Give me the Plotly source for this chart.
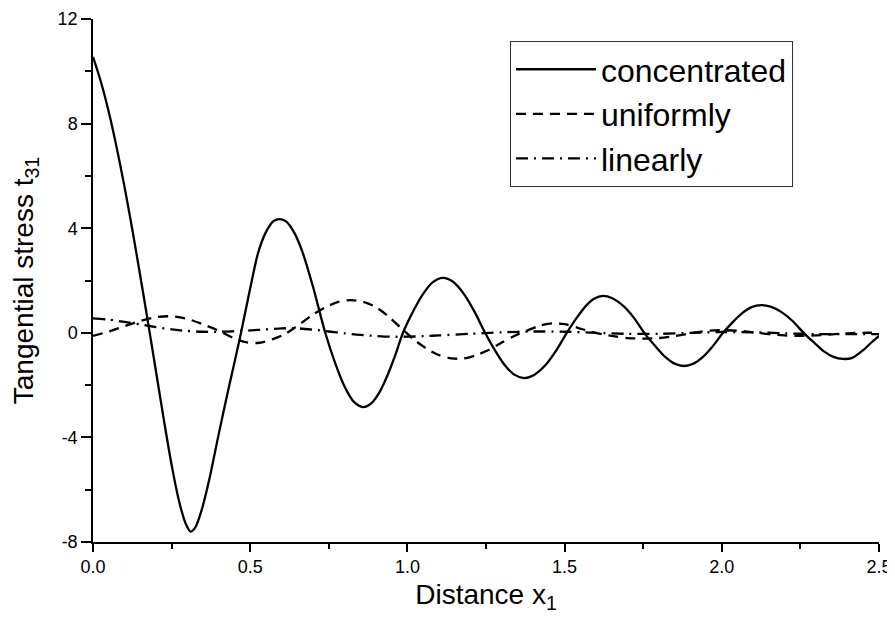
import plotly.graph_objects as go

# ---- data ----
conc_x = [0.0, 0.025, 0.05, 0.075, 0.1, 0.125, 0.15, 0.175, 0.2, 0.225, 0.25, 0.275, 0.295, 0.31, 0.325, 0.345,
          0.37, 0.398, 0.43, 0.468, 0.5, 0.525, 0.55, 0.575, 0.595, 0.615, 0.64,
          0.665, 0.70, 0.738, 0.77, 0.80, 0.83, 0.859, 0.885, 0.91,
          0.935, 0.96, 0.986, 1.02, 1.05, 1.08, 1.113, 1.145,
          1.18, 1.215, 1.247, 1.28, 1.31, 1.34, 1.371, 1.40,
          1.44, 1.475, 1.508, 1.54, 1.57, 1.595, 1.622, 1.65,
          1.69, 1.72, 1.756, 1.79, 1.82, 1.85, 1.88, 1.91,
          1.94, 1.97, 2.004, 2.035, 2.065, 2.095, 2.125, 2.155,
          2.19, 2.225, 2.264, 2.295, 2.325, 2.355, 2.385, 2.415,
          2.45, 2.475, 2.5]
conc_y = [10.55, 9.6, 8.45, 7.1, 5.6, 3.95, 2.2, 0.4, -1.45, -3.3, -5.05, -6.5, -7.3, -7.6, -7.45, -6.8,
          -5.6, -3.98, -2.2, -0.16, 1.7, 3.05, 3.85, 4.28, 4.35, 4.25, 3.83,
          3.13, 1.75, 0.03, -1.15, -2.05, -2.64, -2.84, -2.7, -2.3,
          -1.67, -0.9, 0.0, 0.86, 1.49, 1.93, 2.1, 1.95,
          1.48, 0.77, 0.0, -0.7, -1.24, -1.6, -1.73, -1.63,
          -1.22, -0.64, 0.02, 0.6, 1.06, 1.31, 1.41, 1.33,
          0.99, 0.58, -0.05, -0.53, -0.92, -1.18, -1.27, -1.18,
          -0.92, -0.53, 0.0, 0.41, 0.75, 0.98, 1.06, 1.0,
          0.79, 0.45, -0.05, -0.39, -0.71, -0.92, -1.0, -0.96,
          -0.66, -0.38, -0.12]

unif_x = [0.0, 0.05, 0.1, 0.15, 0.2, 0.25, 0.3, 0.35, 0.4, 0.45, 0.49, 0.53, 0.57, 0.61, 0.66, 0.70,
          0.74, 0.78, 0.82, 0.86, 0.90, 0.94, 0.98, 1.02, 1.06, 1.10, 1.14, 1.18, 1.22, 1.26, 1.30,
          1.34, 1.38, 1.42, 1.46, 1.50, 1.54, 1.58, 1.62, 1.66, 1.70, 1.75, 1.80, 1.85, 1.90, 1.95,
          2.0, 2.05, 2.1, 2.15, 2.2, 2.25, 2.3, 2.35, 2.4, 2.45, 2.5]
unif_y = [-0.12, 0.05, 0.25, 0.45, 0.6, 0.63, 0.53, 0.32, 0.08, -0.22, -0.37, -0.38, -0.25, -0.05, 0.35, 0.7,
          0.98, 1.18, 1.25, 1.18, 0.98, 0.62, 0.18, -0.25, -0.6, -0.85, -0.98, -0.98, -0.85, -0.65, -0.37,
          -0.12, 0.08, 0.27, 0.36, 0.33, 0.2, 0.05, -0.06, -0.14, -0.2, -0.22, -0.2, -0.13, -0.02, 0.07,
          0.1, 0.08, 0.02, -0.05, -0.1, -0.12, -0.1, -0.06, -0.02, 0.0, 0.0]

lin_x = [0.0, 0.05, 0.1, 0.15, 0.2, 0.25, 0.3, 0.35, 0.4, 0.45, 0.5, 0.55, 0.6, 0.65, 0.7, 0.75, 0.8,
         0.85, 0.9, 0.95, 1.0, 1.05, 1.1, 1.2, 1.3, 1.4, 1.5, 1.6, 1.7, 1.8, 1.9, 2.0, 2.1, 2.2,
         2.3, 2.4, 2.5]
lin_y = [0.55, 0.5, 0.42, 0.32, 0.22, 0.13, 0.07, 0.04, 0.04, 0.06, 0.09, 0.13, 0.17, 0.17, 0.12, 0.05, -0.02,
         -0.08, -0.12, -0.15, -0.15, -0.13, -0.1, -0.04, 0.02, 0.05, 0.04, 0.0, -0.04, -0.04, 0.0, 0.03, 0.02, -0.02,
         -0.05, -0.05, -0.05]

series_names = ["concentrated", "uniformly", "linearly"]

x_tickvals = [0.0, 0.5, 1.0, 1.5, 2.0, 2.5]
x_ticktext = ["0.0", "0.5", "1.0", "1.5", "2.0", "2.5"]
y_tickvals = [-8, -4, 0, 4, 8, 12]
y_ticktext = ["-8", "-4", "0", "4", "8", "12"]

FONT = "Liberation Sans, Arial, sans-serif"

fig = go.Figure()
styles = [("solid", conc_x, conc_y), ("10px,7px", unif_x, unif_y), ("12px,6px,2px,6px", lin_x, lin_y)]
for name, (dash, xs, ys) in zip(series_names, styles):
    fig.add_trace(go.Scatter(x=xs, y=ys, mode="lines", name=name,
                             line=dict(color="black", width=2.3, dash=dash, shape="spline", smoothing=0.8)))

axis_common = dict(showline=True, linecolor="black", linewidth=1.5, ticks="outside",
                   tickcolor="black", tickwidth=1.5, showgrid=False, zeroline=False,
                   mirror=False, automargin=False,
                   tickfont=dict(family=FONT, size=18, color="black"))

fig.update_xaxes(range=[0, 2.5], tickvals=x_tickvals, ticktext=x_ticktext, ticklen=8,
                 minor=dict(dtick=0.25, tick0=0, ticks="outside", ticklen=5, tickcolor="black", tickwidth=1.5),
                 title=dict(text="Distance x<sub>1</sub>", font=dict(family=FONT, size=28, color="black"), standoff=8),
                 **axis_common)
fig.update_yaxes(range=[-8, 12], tickvals=y_tickvals, ticktext=y_ticktext, ticklen=10,
                 minor=dict(dtick=2, tick0=0, ticks="outside", ticklen=6, tickcolor="black", tickwidth=1.5),
                 title=dict(text="Tangential stress t<sub>31</sub>", font=dict(family=FONT, size=28, color="black"), standoff=16),
                 **axis_common)

# the page body adds an 8px offset, so the figure is sized to fill the 895x623 window
fig.update_layout(
    width=887, height=615,
    margin=dict(l=85, r=16, t=11, b=81),
    plot_bgcolor="white", paper_bgcolor="white",
    showlegend=True,
    legend=dict(x=0.5305, y=0.958, xanchor="left", yanchor="top",
                bordercolor="#333333", borderwidth=1, bgcolor="white",
                font=dict(family=FONT, size=32, color="black"),
                itemwidth=80, tracegroupgap=0),
)

fig.write_html("out.html")
